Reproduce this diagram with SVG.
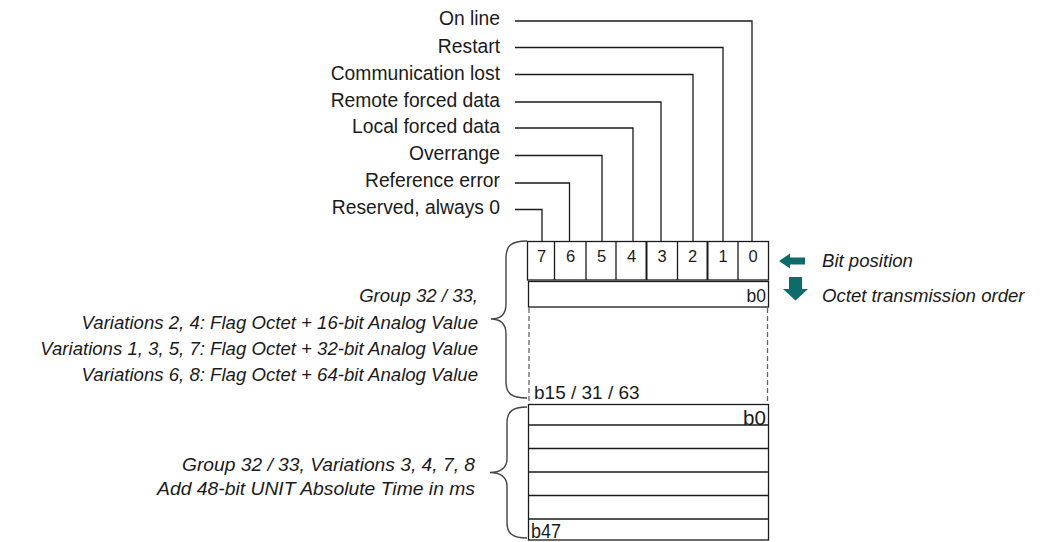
<svg xmlns="http://www.w3.org/2000/svg" width="1040" height="542" viewBox="0 0 1040 542">
<style>
.lbl{font-family:"Liberation Sans",Arial,sans-serif;font-size:19.3px;fill:#1a1a1a;text-anchor:end}
.it{font-family:"Liberation Sans",Arial,sans-serif;font-size:18.6px;fill:#1a1a1a;font-style:italic}
.itr{text-anchor:end}
.dig{font-family:"Liberation Sans",Arial,sans-serif;font-size:16.5px;fill:#1a1a1a;text-anchor:middle}
.bl{font-family:"Liberation Sans",Arial,sans-serif;fill:#1a1a1a}
.ln{fill:none;stroke:#1a1a1a;stroke-width:1.3}
.box{fill:#fff;stroke:#1a1a1a;stroke-width:1.3}
.dash{fill:none;stroke:#666;stroke-width:1.3;stroke-dasharray:5 3}
.brace{fill:none;stroke:#444;stroke-width:1.4}
.arr{fill:#0e6b6b}
</style>
<g id="connectors">
<polyline class="ln" points="515,21 752,21 752,241"/>
<polyline class="ln" points="515,47.5 723,47.5 723,241"/>
<polyline class="ln" points="515,74.5 693,74.5 693,241"/>
<polyline class="ln" points="515,102 661,102 661,241"/>
<polyline class="ln" points="515,128 633,128 633,241"/>
<polyline class="ln" points="515,155.5 602,155.5 602,241"/>
<polyline class="ln" points="515,183 569.5,183 569.5,241"/>
<polyline class="ln" points="515,209.5 542,209.5 542,241"/>
</g>
<g id="flag-labels">
<text class="lbl" x="500" y="25">On line</text>
<text class="lbl" x="500" y="52.5">Restart</text>
<text class="lbl" x="500" y="80">Communication lost</text>
<text class="lbl" x="500" y="106.5">Remote forced data</text>
<text class="lbl" x="500" y="133">Local forced data</text>
<text class="lbl" x="500" y="160">Overrange</text>
<text class="lbl" x="500" y="187">Reference error</text>
<text class="lbl" x="500" y="213.5">Reserved, always 0</text>
</g>
<g id="bit-box">
<rect class="box" x="527.5" y="241.5" width="241" height="38.5"/>
<line class="ln" x1="554.5" y1="241.5" x2="554.5" y2="280"/>
<line class="ln" x1="586" y1="241.5" x2="586" y2="280"/>
<line class="ln" x1="616" y1="241.5" x2="616" y2="280"/>
<line class="ln" x1="646.5" y1="241.5" x2="646.5" y2="280" style="stroke-width:2"/>
<line class="ln" x1="677.5" y1="241.5" x2="677.5" y2="280"/>
<line class="ln" x1="707.5" y1="241.5" x2="707.5" y2="280" style="stroke-width:2"/>
<line class="ln" x1="738" y1="241.5" x2="738" y2="280"/>
<text class="dig" x="541.5" y="262">7</text>
<text class="dig" x="570.5" y="262">6</text>
<text class="dig" x="601.5" y="262">5</text>
<text class="dig" x="631.5" y="262">4</text>
<text class="dig" x="662" y="262">3</text>
<text class="dig" x="692.5" y="262">2</text>
<text class="dig" x="723" y="262">1</text>
<text class="dig" x="753" y="262">0</text>
</g>
<g id="value-octets">
<rect class="box" x="528.5" y="281.5" width="240" height="25.5"/>
<text class="bl" x="766" y="301.5" font-size="17.5" text-anchor="end">b0</text>
<line class="dash" x1="529" y1="308" x2="529" y2="403"/>
<line class="dash" x1="767.5" y1="308" x2="767.5" y2="403"/>
<text class="bl" x="534" y="399" font-size="19">b15 / 31 / 63</text>
</g>
<g id="time-octets">
<rect class="box" x="528.5" y="404.5" width="240" height="135.5"/>
<line class="ln" x1="528.5" y1="425" x2="768.5" y2="425"/>
<line class="ln" x1="528.5" y1="448.5" x2="768.5" y2="448.5"/>
<line class="ln" x1="528.5" y1="472" x2="768.5" y2="472"/>
<line class="ln" x1="528.5" y1="495.5" x2="768.5" y2="495.5"/>
<line class="ln" x1="528.5" y1="519" x2="768.5" y2="519"/>
<text class="bl" x="766" y="424.5" font-size="20.5" text-anchor="end" textLength="23" lengthAdjust="spacingAndGlyphs">b0</text>
<text class="bl" x="531" y="538" font-size="20.5" textLength="30" lengthAdjust="spacingAndGlyphs">b47</text>
</g>
<g id="value-brace">
<path class="brace" d="M527,241 C511,241 506,246 506,258 L506,304 C506,314 501,319 491,319 C501,319 506,324 506,334 L506,382 C506,393 511,398 527,398"/>
<text class="it itr" x="478" y="302">Group 32 / 33,</text>
<text class="it itr" x="478" y="328.5">Variations 2, 4: Flag Octet + 16-bit Analog Value</text>
<text class="it itr" x="478" y="354.5">Variations 1, 3, 5, 7: Flag Octet + 32-bit Analog Value</text>
<text class="it itr" x="478" y="380.5">Variations 6, 8: Flag Octet + 64-bit Analog Value</text>
</g>
<g id="time-brace">
<path class="brace" d="M527,407 C512,407 507,412 507,423 L507,459 C507,468 500,472.5 490,472.5 C500,472.5 507,477 507,486 L507,523 C507,533 512,538 527,538"/>
<text class="it itr" x="475" y="471" font-size="20.5" textLength="293" lengthAdjust="spacingAndGlyphs">Group 32 / 33, Variations 3, 4, 7, 8</text>
<text class="it itr" x="475" y="495" font-size="20.5" textLength="318" lengthAdjust="spacingAndGlyphs">Add 48-bit UNIT Absolute Time in ms</text>
</g>
<g id="legend-bit-position">
<polygon class="arr" points="779,261 790,253.5 790,257.5 805,257.5 805,264.5 790,264.5 790,268.5"/>
<text class="it" x="822" y="267">Bit position</text>
</g>
<g id="legend-octet-order">
<polygon class="arr" points="789,277 802,277 802,289 808,289 795.5,300.5 783,289 789,289"/>
<text class="it" x="822" y="302">Octet transmission order</text>
</g>
</svg>
